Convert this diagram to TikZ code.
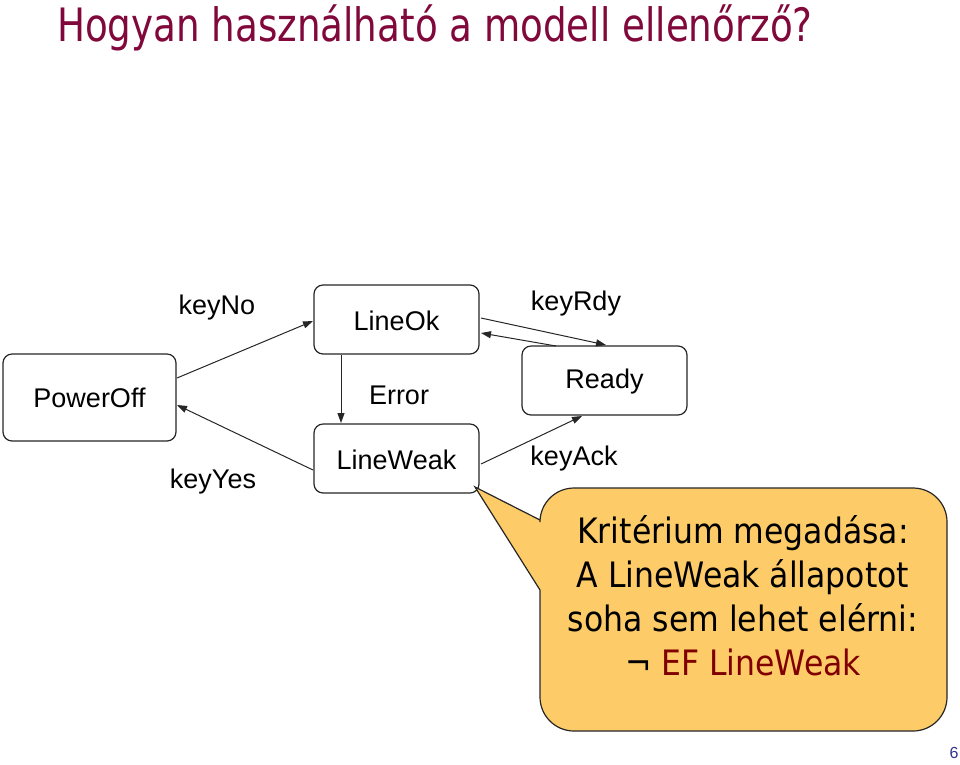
\documentclass[tikz,border=0pt]{standalone}
\usepackage{fontspec}
\setmainfont{Liberation Sans}
\newfontfamily\titlefont{DejaVu Sans Condensed}
\usetikzlibrary{arrows.meta}
\definecolor{titlered}{RGB}{128,8,58}
\definecolor{calloutfill}{RGB}{253,204,104}
\definecolor{efred}{RGB}{128,0,0}
\definecolor{pagenum}{RGB}{50,50,140}
\tikzset{
  state/.style={draw=black!85, line width=1.2pt, rounded corners=9pt, fill=white},
  trans/.style={draw=black!85, line width=1pt, -{Triangle[length=10pt,width=7pt]}},
  lbl/.style={font=\fontsize{27}{30}\selectfont, inner sep=0pt},
}
\begin{document}
\begin{tikzpicture}[x=1pt,y=-1pt]
\useasboundingbox (0,0) rectangle (960,764);
% title
\node[anchor=base west, inner sep=0pt, text=titlered, font=\titlefont\fontsize{46}{50}\selectfont] (title) at (57,41) {\scalebox{0.9}[1]{Hogyan használható a modell ellenőrző?}};
% states
\draw[state] (3,354) rectangle (176,441);
\node[lbl] (poweroff) at (89.5,398) {PowerOff};
\draw[state] (314,285) rectangle (479,354);
\node[lbl] (lineok) at (396.5,321) {LineOk};
\draw[state] (522,346) rectangle (687,415);
\node[lbl] (ready) at (604.5,382) {Ready};
\draw[state] (314,424) rectangle (479,493);
\node[lbl] (lineweak) at (396.5,460) {LineWeak};
% connection points
\coordinate (po1) at (177,378);
\coordinate (po2) at (177,405);
\coordinate (ok1) at (313,321);
\coordinate (ok2) at (481,318);
\coordinate (ok3) at (481,333);
\coordinate (ok4) at (341,355);
\coordinate (lw1) at (341,423);
\coordinate (lw2) at (313,470);
\coordinate (lw3) at (481,464);
\coordinate (rd1) at (606,345);
\coordinate (rd2) at (556,346);
\coordinate (rd3) at (582,416);
\draw[trans] (po1) -- (ok1);
\draw[trans] (lw2) -- (po2);
\draw[trans] (ok4) -- (lw1);
\draw[trans] (ok2) -- (rd1);
\draw[trans] (rd2) -- (ok3);
\draw[trans] (lw3) -- (rd3);
% labels
\node[lbl] (keyno) at (217,308) {keyNo};
\node[lbl] (keyyes) at (213,482) {keyYes};
\node[lbl] (error) at (399,395) {Error};
\node[lbl] (keyrdy) at (576,304) {keyRdy};
\node[lbl] (keyack) at (574,459) {keyAck};
% callout
\draw[draw=black!85, line width=1.2pt, fill=calloutfill, rounded corners=0pt]
  (475,487) -- (540,520)
  [rounded corners=34pt] -- (540,488) -- (947,488) -- (947,731) -- (540,731)
  [rounded corners=0pt] -- (540,590) -- cycle;
\node[inner sep=0pt, align=center, font=\titlefont\fontsize{35}{44}\selectfont] (callout) at (743,596)
  {Kritérium megadása:\\A LineWeak állapotot\\soha sem lehet elérni:\\¬\ \textcolor{efred}{EF LineWeak}};
% page number
\node[inner sep=0pt, text=pagenum, font=\fontsize{16}{18}\selectfont] (page) at (954,753) {6};
\end{tikzpicture}
\end{document}
